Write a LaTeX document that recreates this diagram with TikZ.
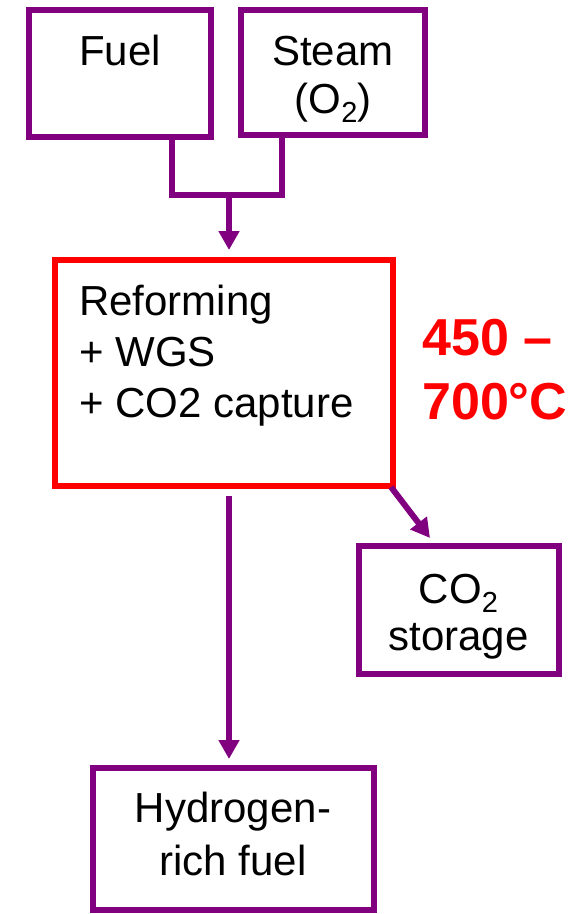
\documentclass[tikz,border=0pt]{standalone}
\usepackage{fontspec}
\setmainfont{Liberation Sans}
\usetikzlibrary{arrows.meta}
\definecolor{boxpurple}{RGB}{128,0,128}
\definecolor{hotred}{RGB}{255,0,0}
% 下标 2 (不改变行距)
\newcommand{\subtwo}{\raisebox{-9pt}[0pt][0pt]{\fontsize{29}{29}\selectfont 2}}

\begin{document}
\begin{tikzpicture}[x=1pt, y=-1pt, >={Triangle[width=20pt,length=19pt]},
		box/.style={draw=boxpurple, line width=6pt, inner sep=0pt},
		flow/.style={draw=boxpurple, line width=6pt},
		txt/.style={inner sep=0pt, font=\fontsize{42}{51}\selectfont}]
	% 0. 画布范围
	\useasboundingbox (0,0) rectangle (572,914);
	
	% 1. 方框
	\node[box, minimum width=182pt, minimum height=127pt] (fuel) at (120,73.5) {};
	\node[box, minimum width=184pt, minimum height=125pt] (steam) at (333,72.5) {};
	\node[box, draw=hotred, minimum width=338pt, minimum height=226pt] (reform) at (224,373) {};
	\node[box, minimum width=200pt, minimum height=128pt] (co2) at (459,610) {};
	\node[box, minimum width=281pt, minimum height=142pt] (hyd) at (233.5,839) {};
	
	% 2. 文字 (多行时 base 为末行基线)
	\node[txt, anchor=base] (fueltxt) at (120,65) {Fuel};
	\node[txt, anchor=base, align=center, font=\fontsize{42}{48}\selectfont] (steamtxt) at (333,113) {Steam\\(O\subtwo)};
	\node[txt, anchor=base west, align=left] (reformtxt) at (79,417) {Reforming\\+ WGS\\+ CO2 capture};
	\node[txt, anchor=base west, align=left, text=hotred, font=\fontsize{52}{64}\selectfont\bfseries] (temp) at (422,419) {450 \textendash\\700°C};
	\node[txt, anchor=base, align=center, font=\fontsize{42}{47}\selectfont] (co2txt) at (458.5,650) {CO\subtwo\\storage};
	\node[txt, anchor=base, align=center, font=\fontsize{42}{53}\selectfont] (hydtxt) at (233,875) {Hydrogen-\\rich fuel};
	
	% 3. 汇合点与连线
	\coordinate (jl) at (172,195);
	\coordinate (jr) at (282,195);
	\coordinate (jm) at (229,195);
	\coordinate (co2in) at (430,538);
	\draw[flow] (fuel.south -| jl) -- (jl) -- (jr) -- (steam.south -| jr);
	\draw[flow, ->, shorten >=7pt] (jm) -- (reform.north -| jm);
	\draw[flow, ->, shorten <=7pt, shorten >=6pt] (reform.south -| jm) -- (hyd.north -| jm);
	\draw[flow, ->] ([xshift=-5pt, yshift=2pt]reform.south east) -- (co2in);
\end{tikzpicture}
\end{document}
